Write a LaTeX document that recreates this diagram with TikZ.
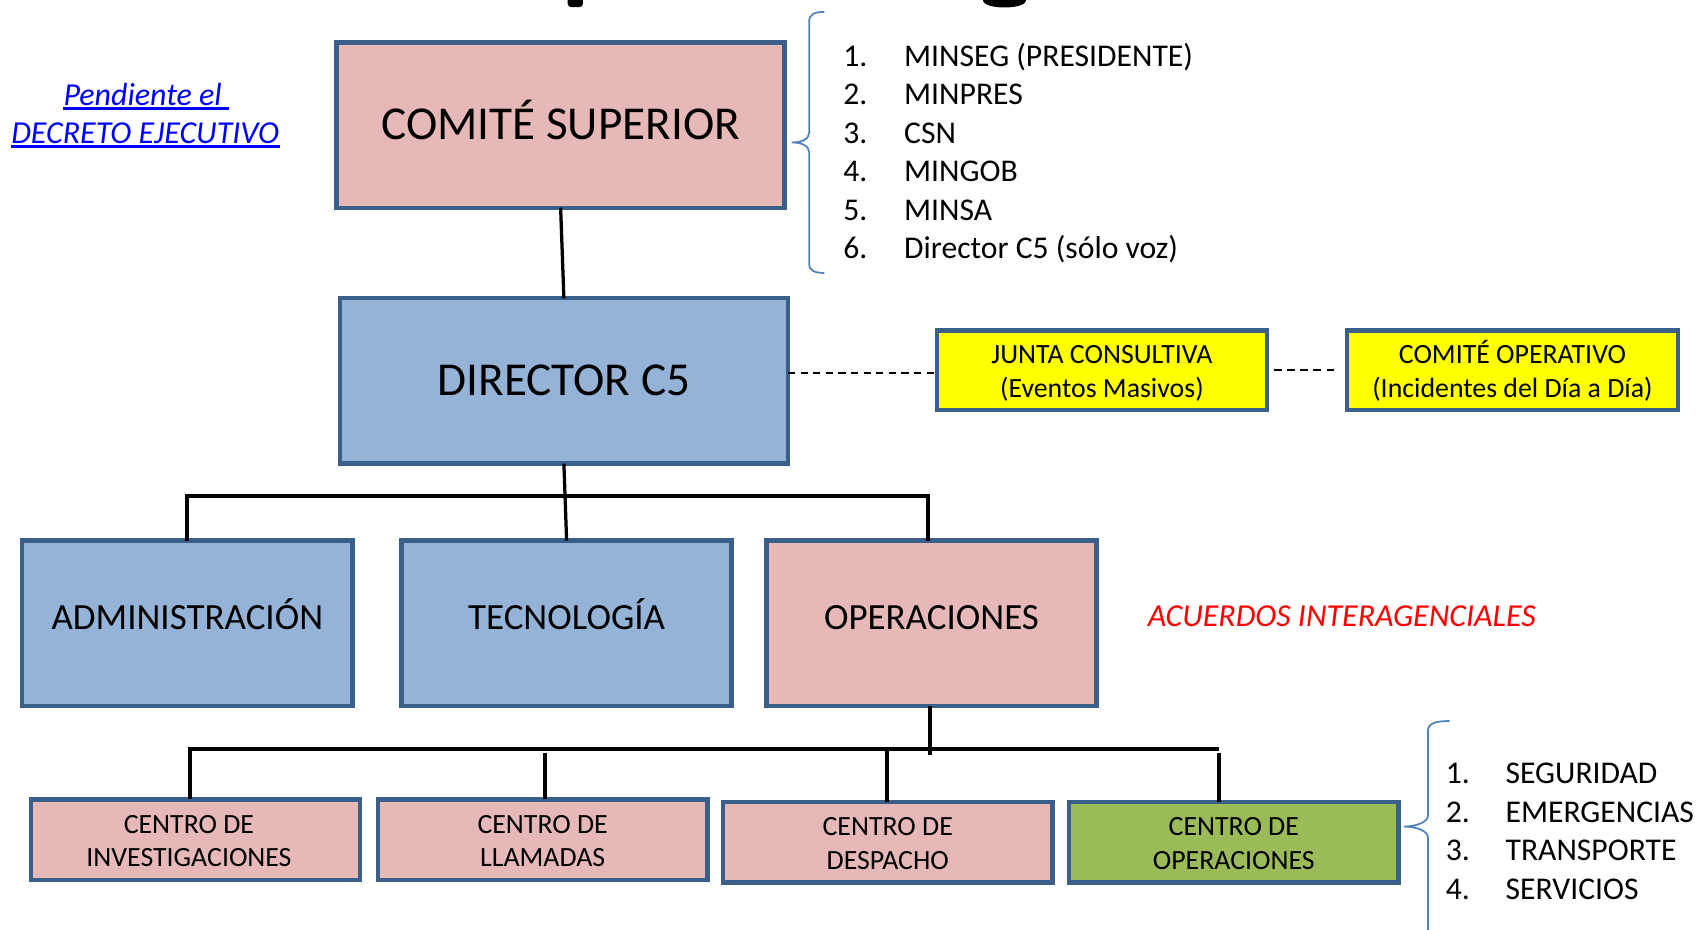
\documentclass[tikz,border=0pt]{standalone}
\usepackage{fontspec}
\setmainfont{Carlito}
\definecolor{bord}{HTML}{3A5F8B}
\definecolor{pinkf}{HTML}{E6B9B8}
\definecolor{bluef}{HTML}{95B3D7}
\definecolor{yelf}{HTML}{FFFF00}
\definecolor{greenf}{HTML}{9BBB59}
\definecolor{brkc}{HTML}{4F81BD}
\definecolor{linkblue}{HTML}{0000FF}
\definecolor{redt}{HTML}{FF0000}
\newcommand{\twol}[2]{\rule{0pt}{12.6pt}#1\\#2\rule[-3pt]{0pt}{0pt}}
\begin{document}
\begin{tikzpicture}[x=0.5pt,y=-0.5pt,
  box/.style={draw=bord,line width=2pt,rectangle,inner sep=0pt,outer sep=0pt,align=center},
  bigbox/.style={box,minimum width=206pt,minimum height=76pt,font=\fontsize{21.7}{26}\selectfont,text height=13.6pt,text depth=0pt},
  midbox/.style={box,minimum width=151.75pt,minimum height=76pt,font=\fontsize{17}{20}\selectfont,text height=10.7pt,text depth=5pt},
  smallbox/.style={box,minimum width=151.5pt,minimum height=37pt,font=\fontsize{12.8}{15.6}\selectfont},
  bar/.style={line width=1.9pt},
  stemline/.style={line width=1.5pt},
  dashA/.style={line width=0.8pt,dash pattern=on 3.3pt off 2.5pt},
  dashB/.style={line width=1.2pt,dash pattern=on 3.5pt off 2.5pt},
  brk/.style={draw=brkc,line width=0.8pt},
  lst/.style={anchor=base west,inner sep=0pt,font=\fontsize{14.55}{17}\selectfont},
  note/.style={anchor=base west,inner sep=0pt,font=\fontsize{14.7}{17}\selectfont\itshape},
]
\useasboundingbox (0,0) rectangle (1565,854.3);

% fragments of the cut-off title
\fill[rounded corners=1.5pt] (522,-6) rectangle (536,6.5);
\fill (904,0) .. controls (904,9) and (943,9) .. (943,0) -- cycle;

% main boxes
\node[bigbox,fill=pinkf] (cs) at (515.5,115) {COMITÉ SUPERIOR};
\node[bigbox,fill=bluef] (dir) at (518.5,350.3) {DIRECTOR C5};
\node[smallbox,fill=yelf,minimum width=151.5pt,minimum height=36.5pt] (jc) at (1013.25,340.5)
  {\twol{JUNTA CONSULTIVA}{(Eventos Masivos)}};
\node[smallbox,fill=yelf,minimum width=152pt,minimum height=36.5pt] (co) at (1390.75,340.5)
  {\twol{COMITÉ OPERATIVO}{(Incidentes del Día a Día)}};

\node[midbox,fill=bluef] (adm) at (172.25,573) {ADMINISTRACIÓN};
\node[midbox,fill=bluef] (tec) at (521,573) {TECNOLOGÍA};
\node[midbox,fill=pinkf] (ope) at (856.5,573) {OPERACIONES};

\node[smallbox,fill=pinkf] (inv) at (179.75,772) {\twol{CENTRO DE\hspace*{6pt}}{INVESTIGACIONES\hspace*{6pt}}};
\node[smallbox,fill=pinkf] (lla) at (499,772) {\twol{CENTRO DE}{LLAMADAS}};
\node[smallbox,fill=pinkf] (des) at (816.3,774.5) {\twol{CENTRO DE}{DESPACHO}};
\node[smallbox,fill=greenf] (cop) at (1134.5,774.5) {\twol{CENTRO DE}{OPERACIONES}};

% connectors
\draw[stemline] (cs.south) -- (dir.north);
\coordinate (bus1) at (0,456);
\draw[stemline] (dir.south) -- (tec.north);
\draw[bar] (adm.north) -- (adm.north |- bus1) -- ([xshift=-1.7pt]ope.north |- bus1) -- ([xshift=-1.7pt]ope.north);

\coordinate (bus2) at (0,689);
\draw[stemline] ([xshift=-0.7pt]ope.south) -- ([xshift=-0.7pt,yshift=-2.5pt]ope.south |- bus2);
\draw[bar] ([xshift=-2.6pt]inv.north) -- ([xshift=-2.6pt]inv.north |- bus2) -- ([xshift=-6.75pt]cop.north |- bus2);
\draw[bar] ([xshift=1pt]lla.north) -- ([xshift=1pt,yshift=-1.5pt]lla.north |- bus2);
\draw[bar] ([xshift=-0.3pt]des.north) -- ([xshift=-0.3pt]des.north |- bus2);
\draw[bar] ([xshift=-6.75pt]cop.north) -- ([xshift=-6.75pt,yshift=-1.5pt]cop.north |- bus2);

\coordinate (d1) at (0,343.3);
\coordinate (d2) at (0,340.2);
\draw[dashA] (dir.east |- d1) -- (jc.west |- d1);
\draw[dashB] ([xshift=3.5pt]jc.east |- d2) -- ([xshift=-3.75pt]co.west |- d2);

% brackets
\draw[brk] (758,11) .. controls (749,11) and (744,13) .. (744,20) -- (744,122)
  .. controls (744,128) and (737,131) .. (728,131)
  .. controls (737,131) and (744,134) .. (744,140) -- (744,242)
  .. controls (744,249) and (749,251) .. (758,251);
\draw[brk] (1333,663) .. controls (1320,663) and (1313,665) .. (1313,672) -- (1313,750)
  .. controls (1313,756) and (1302,760) .. (1291,760)
  .. controls (1302,760) and (1313,764) .. (1313,770) -- (1313,862);

% member lists
\foreach \t [count=\i] in {{MINSEG (PRESIDENTE)},{MINPRES},{CSN},{MINGOB},{MINSA},{Director C5 (sólo voz)}} {
  \node[lst] (la\i) at (775,{25.3+35.4*\i}) {\i.};
  \node[lst] (lb\i) at (831,{25.3+35.4*\i}) {\t};
}
\foreach \t [count=\i] in {{SEGURIDAD},{EMERGENCIAS},{TRANSPORTE},{SERVICIOS}} {
  \node[lst] (ma\i) at (1329,{684.7+35.6*\i}) {\i.};
  \node[lst] (mb\i) at (1384,{684.7+35.6*\i}) {\t};
}

% notes
\node[note,text=linkblue] (pend) at (58,96.6) {Pendiente el\hspace*{3.3pt}};
\node[note,text=linkblue] (decr) at (10,131.8) {DECRETO EJECUTIVO};
\draw[linkblue,line width=1.2pt] ([yshift=-1.5pt]pend.base west) -- ([yshift=-1.5pt]pend.base east);
\draw[linkblue,line width=1.2pt] ([yshift=-1.5pt]decr.base west) -- ([yshift=-1.5pt]decr.base east);
\node[note,text=redt] (acu) at (1055,576.3) {ACUERDOS INTERAGENCIALES};
\end{tikzpicture}
\end{document}
